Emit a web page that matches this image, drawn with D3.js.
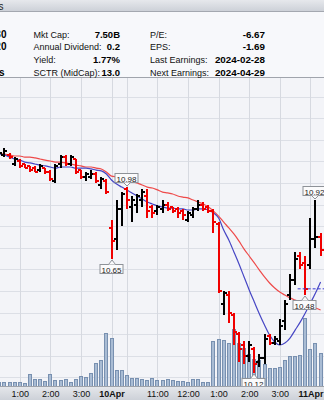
<!DOCTYPE html>
<html>
<head>
<meta charset="utf-8">
<script src="https://cdn.jsdelivr.net/npm/d3@7"></script>
<style>
	html, body { margin: 0; padding: 0; background: #f3f4f8; overflow: hidden; }
	svg { display: block; font-family: "Liberation Sans", Arial, sans-serif; }
</style>
</head>
<body>
<div id="visContainer"></div>
<script>
'use strict';

// 10-minute bars, counted from the 10Apr open (0 = 9:30 bar)
var FIRST_BAR = -22;

var opens = [11.13, 11.13, 11.13, 11.09, 11.10, 11.09, 11.08, 11.07, 11.06, 11.07, 11.05, 11.01, 11.09, 11.12, 11.09, 11.11,
	11.06, 11.03, 11.03, 11.04, 10.99, 11.01,
	10.79, 10.74, 10.88, 10.97, 10.89, 10.90, 10.92, 10.94, 10.89, 10.87, 10.88, 10.90, 10.89, 10.88, 10.87, 10.83,
	10.85, 10.88, 10.90, 10.89, 10.87, 10.81, 10.44, 10.48, 10.39, 10.30, 10.25, 10.20, 10.23, 10.17, 10.19, 10.29,
	10.26, 10.27, 10.36, 10.48, 10.55, 10.66, 10.63, 10.62, 10.74, 10.75];
var highs = [11.15, 11.16, 11.14, 11.12, 11.11, 11.09, 11.08, 11.08, 11.09, 11.07, 11.06, 11.09, 11.13, 11.13, 11.13, 11.11,
	11.06, 11.05, 11.06, 11.05, 11.03, 11.02,
	10.83, 10.92, 10.96, 10.98, 10.94, 10.95, 10.97, 10.97, 10.90, 10.90, 10.92, 10.91, 10.89, 10.89, 10.88, 10.87,
	10.89, 10.92, 10.91, 10.90, 10.88, 10.82, 10.50, 10.50, 10.40, 10.31, 10.27, 10.27, 10.24, 10.21, 10.30, 10.30,
	10.29, 10.37, 10.46, 10.58, 10.68, 10.68, 10.66, 10.84, 10.92, 10.77];
var lows = [11.12, 11.12, 11.11, 11.08, 11.07, 11.07, 11.05, 11.05, 11.05, 11.04, 11.01, 11.00, 11.07, 11.08, 11.08, 11.04,
	11.02, 11.01, 11.02, 11.00, 10.97, 10.95,
	10.65, 10.69, 10.80, 10.88, 10.82, 10.86, 10.89, 10.84, 10.84, 10.85, 10.86, 10.87, 10.86, 10.84, 10.83, 10.82,
	10.84, 10.87, 10.87, 10.86, 10.77, 10.49, 10.39, 10.35, 10.25, 10.17, 10.16, 10.17, 10.12, 10.15, 10.16, 10.25,
	10.25, 10.25, 10.32, 10.46, 10.53, 10.60, 10.48, 10.60, 10.70, 10.66];
var closes = [11.14, 11.15, 11.12, 11.11, 11.08, 11.07, 11.06, 11.05, 11.08, 11.05, 11.02, 11.08, 11.12, 11.09, 11.12, 11.05,
	11.03, 11.04, 11.04, 11.01, 11.02, 10.96,
	10.73, 10.88, 10.95, 10.92, 10.92, 10.94, 10.96, 10.87, 10.86, 10.89, 10.90, 10.88, 10.87, 10.86, 10.85, 10.86,
	10.88, 10.90, 10.88, 10.87, 10.82, 10.50, 10.49, 10.40, 10.31, 10.23, 10.20, 10.25, 10.16, 10.19, 10.28, 10.26,
	10.28, 10.34, 10.44, 10.55, 10.65, 10.62, 10.51, 10.74, 10.75, 10.69];
// thousands of shares
var volumes = [10, 10, 10, 10, 10, 8, 30, 18, 18, 13, 30, 15, 15, 18, 10, 18,
	25, 23, 33, 58, 65, 133,
	120, 40, 40, 28, 20, 20, 18, 15, 20, 15, 15, 18, 15, 13, 13, 10,
	18, 18, 10, 10, 113, 118, 115, 108, 143, 108, 95, 80, 68, 65, 55, 45,
	45, 48, 65, 75, 75, 78, 170, 93, 108, 83];
// moving averages (blue = short, red = long)
var maShort = [11.134, 11.130, 11.120, 11.111, 11.106, 11.097, 11.093, 11.088, 11.083, 11.079, 11.074, 11.069, 11.074, 11.074, 11.074, 11.069,
	11.069, 11.069, 11.065, 11.060, 11.056, 11.042,
	11.014, 10.995, 10.981, 10.968, 10.954, 10.940, 10.926, 10.912, 10.903, 10.894, 10.889, 10.884, 10.884, 10.880, 10.880, 10.875,
	10.875, 10.880, 10.880, 10.875, 10.861, 10.838, 10.782, 10.736, 10.681, 10.625, 10.565, 10.505, 10.449, 10.394, 10.343, 10.296,
	10.264, 10.250, 10.259, 10.282, 10.319, 10.356, 10.398, 10.444, 10.491, 10.542];
var maLong = [11.137, 11.134, 11.130, 11.125, 11.125, 11.120, 11.120, 11.116, 11.111, 11.106, 11.102, 11.097, 11.097, 11.093, 11.088, 11.083,
	11.079, 11.074, 11.074, 11.069, 11.065, 11.051,
	11.032, 11.028, 11.023, 11.014, 11.009, 11.000, 10.991, 10.981, 10.977, 10.968, 10.958, 10.954, 10.949, 10.940, 10.935, 10.931,
	10.921, 10.912, 10.903, 10.889, 10.870, 10.847, 10.819, 10.792, 10.764, 10.731, 10.694, 10.662, 10.630, 10.597, 10.565, 10.537,
	10.514, 10.495, 10.481, 10.468, 10.458, 10.449, 10.440, 10.431, 10.421, 10.412];

// time axis
var tickBars = [-18, -12, -6, 0, 3, 9, 15, 21, 27, 33, 39];
var tickLabels = ['1:00', '2:00', '3:00', '10Apr', '', '11:00', '12:00', '1:00', '2:00', '3:00', '11Apr'];
var priceGrid = [10.1, 10.2, 10.3, 10.4, 10.5, 10.6, 10.7, 10.8, 10.9, 11.0, 11.1, 11.2, 11.3, 11.4];

// price callouts
var calloutBars = [0, 3, 28, 38, 40];
var calloutSides = ['low', 'high', 'low', 'low', 'high'];
var levelPrice = 10.51;
var levelFromBar = 36.5;

// summary panel
var headerText = 'Financial Services';
var cutValues = ['13.30', '9.20', '', 'Yes'];
var labels1 = ['Mkt Cap:', 'Annual Dividend:', 'Yield:', 'SCTR (MidCap):'];
var values1 = ['7.50B', '0.2', '1.77%', '13.0'];
var labels2 = ['P/E:', 'EPS:', 'Last Earnings:', 'Next Earnings:'];
var values2 = ['-6.67', '-1.69', '2024-02-28', '2024-04-29'];

var WIDTH = 324, HEIGHT = 400;
var HEADER_H = 11, INFO_BOTTOM = 77, PLOT_TOP = 78, PLOT_BOTTOM = 386;

var svg = d3.select('#visContainer')
	.append('svg')
	.attr('width', WIDTH)
	.attr('height', HEIGHT);

var defs = svg.append('defs');
var grad = defs.append('linearGradient').attr('id', 'bandGrad').attr('x1', 0).attr('y1', 0).attr('x2', 0).attr('y2', 1);
grad.append('stop').attr('offset', '0%').attr('stop-color', '#e6e8ec');
grad.append('stop').attr('offset', '100%').attr('stop-color', '#cdd1d8');
defs.append('clipPath').attr('id', 'plotClip')
	.append('rect').attr('x', 0).attr('y', PLOT_TOP).attr('width', WIDTH).attr('height', PLOT_BOTTOM - PLOT_TOP);

var xScale = d3.scaleLinear().domain([0, 39]).range([111.5, 310.4]);
var yScale = d3.scaleLinear().domain([10.1, 11.4]).range([377.4, 96.6]);
var volScale = d3.scaleLinear().domain([0, 250]).range([PLOT_BOTTOM, PLOT_BOTTOM - 100]);

var bars = opens.map(function (o, i) {
	return { k: FIRST_BAR + i, o: o, h: highs[i], l: lows[i], c: closes[i], v: volumes[i], ms: maShort[i], ml: maLong[i] };
});

// backgrounds
svg.append('rect').attr('width', WIDTH).attr('height', HEADER_H).attr('fill', 'url(#bandGrad)');
svg.append('line').attr('x1', 0).attr('x2', WIDTH).attr('y1', HEADER_H + 0.5).attr('y2', HEADER_H + 0.5).attr('stroke', '#a4a8b0');
svg.append('rect').attr('y', HEADER_H + 1).attr('width', WIDTH).attr('height', INFO_BOTTOM - HEADER_H - 1).attr('fill', '#f7f8fb');
svg.append('line').attr('x1', 0).attr('x2', WIDTH).attr('y1', INFO_BOTTOM + 0.5).attr('y2', INFO_BOTTOM + 0.5).attr('stroke', '#a0a4ac');
svg.append('rect').attr('y', PLOT_TOP).attr('width', WIDTH).attr('height', PLOT_BOTTOM - PLOT_TOP).attr('fill', '#f3f4f8');

// header and summary text (the left column is cut by the crop, as in the source)
svg.append('text').attr('x', 3.5).attr('y', 10).attr('text-anchor', 'end')
	.style('font-size', '10px').attr('fill', '#222').text(headerText);

var rowY = [37.5, 50, 63, 75.5];
var info = svg.append('g');
info.selectAll('.cut').data(cutValues).enter().append('text')
	.attr('x', function (d) { return d === 'Yes' ? 4.5 : 6.5; })
	.attr('y', function (d, i) { return rowY[i]; })
	.attr('text-anchor', 'end').style('font-size', '10px').style('font-weight', 'bold')
	.text(function (d) { return d; });
info.selectAll('.lab1').data(labels1).enter().append('text')
	.attr('x', 33.5).attr('y', function (d, i) { return rowY[i]; })
	.style('font-size', '9px').attr('fill', '#111').text(function (d) { return d; });
info.selectAll('.val1').data(values1).enter().append('text')
	.attr('x', 120).attr('y', function (d, i) { return rowY[i]; })
	.attr('text-anchor', 'end').style('font-size', '9.5px').style('font-weight', 'bold').text(function (d) { return d; });
info.selectAll('.lab2').data(labels2).enter().append('text')
	.attr('x', 150).attr('y', function (d, i) { return rowY[i]; })
	.style('font-size', '9px').attr('fill', '#111').text(function (d) { return d; });
info.selectAll('.val2').data(values2).enter().append('text')
	.attr('x', 265).attr('y', function (d, i) { return rowY[i]; })
	.attr('text-anchor', 'end').style('font-size', '9.8px').style('font-weight', 'bold').text(function (d) { return d; });

var plot = svg.append('g').attr('clip-path', 'url(#plotClip)');

// grid
plot.selectAll('.hgrid').data(priceGrid).enter().append('line')
	.attr('x1', 0).attr('x2', WIDTH)
	.attr('y1', function (d) { return Math.round(yScale(d)) + 0.5; })
	.attr('y2', function (d) { return Math.round(yScale(d)) + 0.5; })
	.attr('stroke', '#dcdfe6');
plot.selectAll('.vgrid').data(tickBars).enter().append('line')
	.attr('x1', function (d) { return Math.round(xScale(d)) + 0.5; })
	.attr('x2', function (d) { return Math.round(xScale(d)) + 0.5; })
	.attr('y1', PLOT_TOP).attr('y2', PLOT_BOTTOM)
	.attr('stroke', '#d6d9e0');

// volume
plot.selectAll('.vol').data(bars).enter().append('rect')
	.attr('x', function (d) { return Math.round(xScale(d.k) - 2) + 0.5; })
	.attr('y', function (d) { return Math.round(volScale(d.v)) + 0.5; })
	.attr('width', 3)
	.attr('height', function (d) { return PLOT_BOTTOM - Math.round(volScale(d.v)); })
	.attr('fill', '#a9bcd4')
	.attr('stroke', '#7890b0')
	.attr('stroke-width', 1);

// moving averages
var maLine = function (key) {
	return d3.line()
		.x(function (d) { return xScale(d.k); })
		.y(function (d) { return yScale(d[key]); })
		.curve(d3.curveMonotoneX);
};
plot.append('path').datum(bars).attr('d', maLine('ml'))
	.attr('fill', 'none').attr('stroke', '#ee4a4a').attr('stroke-width', 1.2);
plot.append('path').datum(bars).attr('d', maLine('ms'))
	.attr('fill', 'none').attr('stroke', '#4646c4').attr('stroke-width', 1.2);

// OHLC bars
plot.selectAll('.ohlc').data(bars).enter().append('path')
	.attr('d', function (d) {
		var x = Math.round(xScale(d.k));
		var yo = Math.round(yScale(d.o)), yc = Math.round(yScale(d.c));
		return 'M' + x + ',' + Math.round(yScale(d.h)) + 'V' + Math.round(yScale(d.l)) +
			'M' + (x - 3) + ',' + yo + 'H' + x +
			'M' + x + ',' + yc + 'H' + (x + 3);
	})
	.attr('fill', 'none')
	.attr('stroke', function (d) { return d.c >= d.o ? '#000' : '#f00000'; })
	.attr('stroke-width', 2)
	.attr('shape-rendering', 'crispEdges');

// level line
plot.append('line')
	.attr('x1', xScale(levelFromBar)).attr('x2', WIDTH)
	.attr('y1', yScale(levelPrice)).attr('y2', yScale(levelPrice))
	.attr('stroke', '#3a3ad6').attr('stroke-dasharray', '3,2');

// callouts
calloutBars.forEach(function (k, i) {
	var d = bars[k - FIRST_BAR];
	var side = calloutSides[i];
	var value = side === 'high' ? d.h : d.l;
	var x = Math.round(xScale(k));
	var yp = Math.round(yScale(value));
	var w = 23, h = 9;
	var top = side === 'high' ? yp - 5 - h : yp + 5;
	var g = plot.append('g');
	g.append('rect').attr('x', x - w / 2 - 0.5).attr('y', top + 0.5).attr('width', w).attr('height', h)
		.attr('fill', '#fbfbfc').attr('stroke', '#8e9298');
	var tri = side === 'high'
		? 'M' + (x - 3.5) + ',' + (top + h + 0.5) + 'L' + x + ',' + (yp - 1) + 'L' + (x + 3.5) + ',' + (top + h + 0.5)
		: 'M' + (x - 3.5) + ',' + (top + 0.5) + 'L' + x + ',' + (yp + 1) + 'L' + (x + 3.5) + ',' + (top + 0.5);
	g.append('path').attr('d', tri + 'Z').attr('fill', '#fbfbfc').attr('stroke', 'none');
	g.append('path').attr('d', tri).attr('fill', 'none').attr('stroke', '#8e9298');
	g.append('text').attr('x', x - 0.5).attr('y', top + h - 0.5).attr('text-anchor', 'middle')
		.style('font-size', '8px').attr('fill', '#222').text(d3.format('.2f')(value));
});

// time axis band
svg.append('rect').attr('y', PLOT_BOTTOM).attr('width', WIDTH).attr('height', HEIGHT - PLOT_BOTTOM).attr('fill', 'url(#bandGrad)');
svg.append('line').attr('x1', 0).attr('x2', WIDTH).attr('y1', PLOT_BOTTOM + 0.5).attr('y2', PLOT_BOTTOM + 0.5).attr('stroke', '#9ea2aa');

var xAxis = d3.axisBottom(xScale)
	.tickValues(tickBars)
	.tickFormat(function (d, i) { return tickLabels[i]; })
	.tickSize(0);
var axisG = svg.append('g').attr('transform', 'translate(0,' + PLOT_BOTTOM + ')').call(xAxis);
axisG.select('.domain').remove();
axisG.selectAll('text')
	.attr('y', 11).attr('dy', 0)
	.style('font-family', '"Liberation Sans", Arial, sans-serif')
	.style('font-size', '9px')
	.style('font-weight', function (d, i) { return /Apr/.test(tickLabels[i]) ? 'bold' : 'normal'; })
	.attr('fill', '#111');
</script>
</body>
</html>
